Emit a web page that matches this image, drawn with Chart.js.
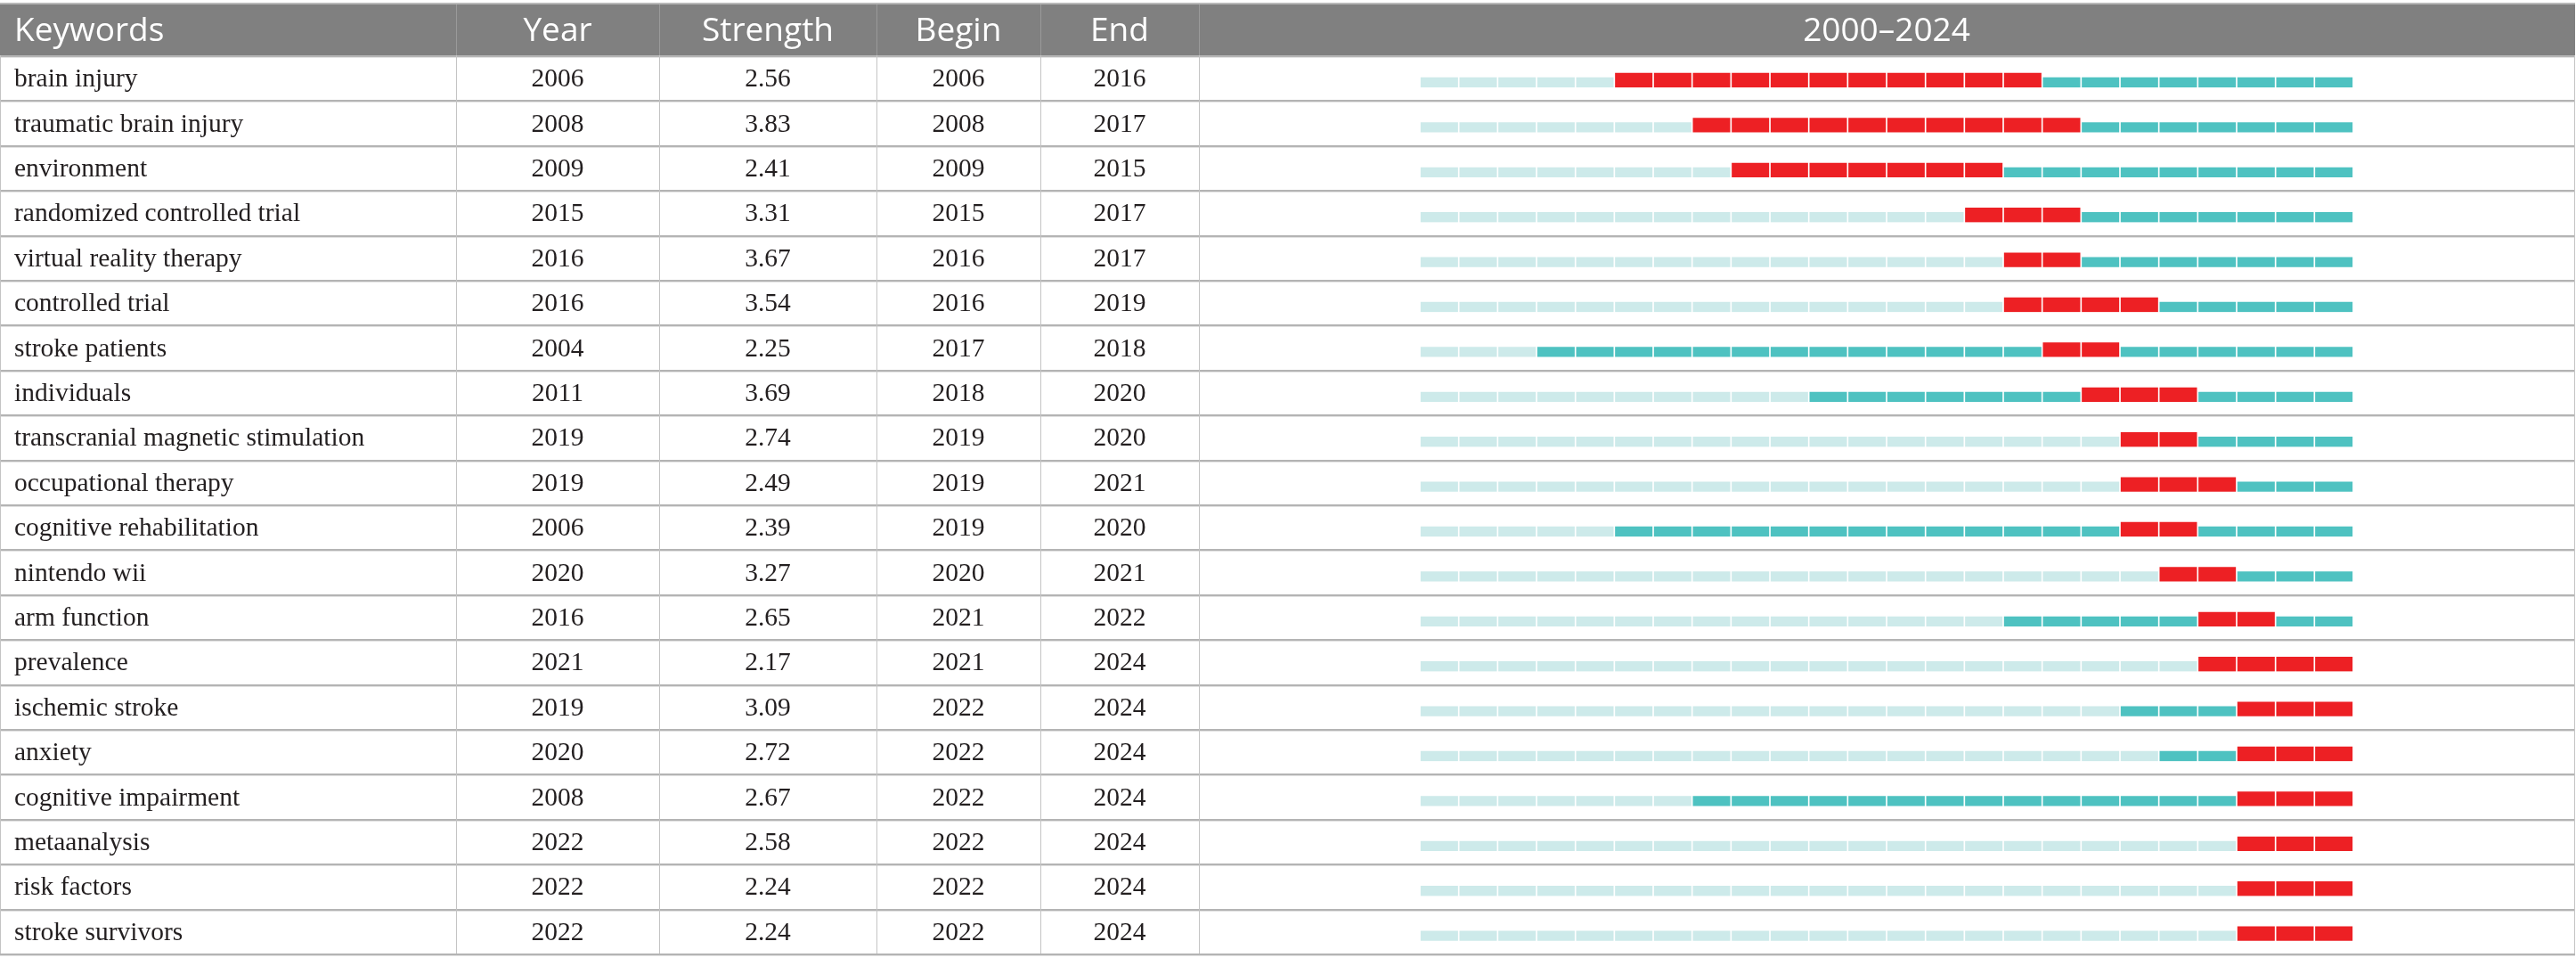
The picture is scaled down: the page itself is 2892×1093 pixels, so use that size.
<!DOCTYPE html>
<html>
<head>
<meta charset="utf-8">
<title>Keyword bursts 2000-2024</title>
<script src="https://cdn.jsdelivr.net/npm/chart.js@4/dist/chart.umd.min.js"></script>
<style>
  html, body { margin: 0; padding: 0; background: #fff; }
  canvas { display: block; }
</style>
</head>
<body>
<canvas id="burstChart" width="2892" height="1093"></canvas>
<script>
"use strict";
// ========== DATA ========== //
const keywords = ["brain injury", "traumatic brain injury", "environment", "randomized controlled trial",
  "virtual reality therapy", "controlled trial", "stroke patients", "individuals",
  "transcranial magnetic stimulation", "occupational therapy", "cognitive rehabilitation", "nintendo wii",
  "arm function", "prevalence", "ischemic stroke", "anxiety", "cognitive impairment", "metaanalysis",
  "risk factors", "stroke survivors"];
const years = [2006, 2008, 2009, 2015, 2016, 2016, 2004, 2011, 2019, 2019, 2006, 2020, 2016, 2021, 2019, 2020, 2008, 2022, 2022, 2022];
const strengths = ["2.56", "3.83", "2.41", "3.31", "3.67", "3.54", "2.25", "3.69", "2.74", "2.49", "2.39", "3.27", "2.65", "2.17", "3.09", "2.72", "2.67", "2.58", "2.24", "2.24"];
const begins = [2006, 2008, 2009, 2015, 2016, 2016, 2017, 2018, 2019, 2019, 2019, 2020, 2021, 2021, 2022, 2022, 2022, 2022, 2022, 2022];
const ends = [2016, 2017, 2015, 2017, 2017, 2019, 2018, 2020, 2020, 2021, 2020, 2021, 2022, 2024, 2024, 2024, 2024, 2024, 2024, 2024];
// one slot per year on the timeline
const slotYears = [2001, 2002, 2003, 2004, 2005, 2006, 2007, 2008, 2009, 2010, 2011, 2012,
  2013, 2014, 2015, 2016, 2017, 2018, 2019, 2020, 2021, 2022, 2023, 2024];
const headers = ["Keywords", "Year", "Strength", "Begin", "End", "2000\u20132024"];

// ========== STYLE ========== //
const RED = "#ed2024";
const TEAL = "#4ec2c1";
const LIGHT = "#cdeaea";
const HEADER_BG = "#808080";
const colEdges = [0, 512, 740, 984, 1168, 1346, 2890]; // table column borders
const headerTop = 5;

function slotState(row, yr) {
  if (yr < years[row]) return "light";
  if (yr >= begins[row] && yr <= ends[row]) return "burst";
  return "present";
}

// draws the table part (header, text columns, lines) around the timeline bars
const tablePlugin = {
  id: "burstTable",
  beforeDatasetsDraw(chart) {
    const ctx = chart.ctx;
    const area = chart.chartArea;
    const yScale = chart.scales.y;
    const rowH = (area.bottom - area.top) / keywords.length;
    const left = colEdges[0];
    const right = colEdges[colEdges.length - 1];

    ctx.save();
    // header band
    ctx.fillStyle = "#b8b8b8";
    ctx.fillRect(left, headerTop - 2, right - left + 1, 2);
    ctx.fillStyle = HEADER_BG;
    ctx.fillRect(left, headerTop, right - left + 1, area.top - headerTop);
    ctx.fillStyle = "#9a9a9a";
    for (let i = 1; i < colEdges.length - 1; i++) {
      ctx.fillRect(colEdges[i], headerTop, 1, area.top - headerTop);
    }
    ctx.fillStyle = "#ffffff";
    ctx.font = "37px 'Open Sans'";
    ctx.textBaseline = "alphabetic";
    for (let c = 0; c < headers.length; c++) {
      if (c === 0) {
        ctx.textAlign = "left";
        ctx.fillText(headers[c], 16, 46);
      } else {
        ctx.textAlign = "center";
        ctx.fillText(headers[c], (colEdges[c] + colEdges[c + 1]) / 2, 46);
      }
    }

    // horizontal row lines
    for (let i = 0; i <= keywords.length; i++) {
      const y = Math.round(area.top + i * rowH);
      ctx.fillStyle = "#b4b4b4";
      ctx.fillRect(left, y, right - left + 1, 2);
      ctx.fillStyle = "#e2e2e2";
      ctx.fillRect(left, y + 2, right - left + 1, 1);
    }
    // vertical column lines
    ctx.fillStyle = "#c4c4c4";
    for (let i = 0; i < colEdges.length; i++) {
      ctx.fillRect(colEdges[i], area.top, 1, area.bottom - area.top);
    }

    // cell text
    ctx.fillStyle = "#231f20";
    ctx.font = "29.5px 'Liberation Serif'";
    for (let r = 0; r < keywords.length; r++) {
      const base = yScale.getPixelForValue(r) + 10;
      const cells = [keywords[r], years[r], strengths[r], begins[r], ends[r]];
      for (let c = 0; c < cells.length; c++) {
        if (c === 0) {
          ctx.textAlign = "left";
          ctx.fillText(cells[c], 16, base);
        } else {
          ctx.textAlign = "center";
          ctx.fillText(String(cells[c]), (colEdges[c] + colEdges[c + 1]) / 2, base);
        }
      }
    }
    ctx.restore();
  }
};

// one dataset per year slot, coloured by the keyword's state in that year
const datasets = slotYears.map(function(yr) {
  return {
    label: String(yr),
    data: keywords.map(function() { return [yr, yr + 1]; }),
    grouped: false,
    barThickness: 22,
    borderSkipped: false,
    borderColor: "#ffffff",
    backgroundColor: function(c) {
      const s = slotState(c.dataIndex, yr);
      return s === "burst" ? RED : (s === "present" ? TEAL : LIGHT);
    },
    borderWidth: function(c) {
      const burst = slotState(c.dataIndex, yr) === "burst";
      return { left: 1.15, right: 1.15, top: burst ? 6 : 11.3, bottom: 0 };
    }
  };
});

const chart = new Chart(document.querySelector("#burstChart"), {
  type: "bar",
  data: { labels: keywords, datasets: datasets },
  options: {
    indexAxis: "y",
    responsive: false,
    animation: false,
    devicePixelRatio: 1,
    layout: { padding: { left: 1346, right: 2, top: 62, bottom: 23 } },
    scales: {
      x: { type: "linear", min: 1995.32, max: 2030.68, display: false },
      y: { type: "category", offset: true, display: false }
    },
    plugins: {
      legend: { display: false },
      tooltip: { enabled: false },
      title: { display: false }
    }
  },
  plugins: [tablePlugin]
});
</script>
</body>
</html>
